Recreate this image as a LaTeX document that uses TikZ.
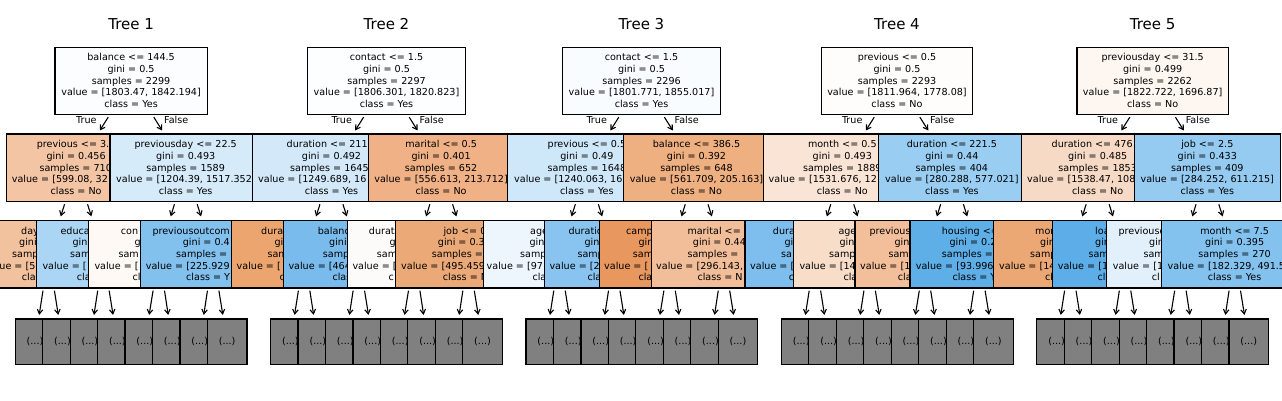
\documentclass[tikz,border=0pt]{standalone}
\usepackage{fontspec}
\setmainfont{DejaVu Sans}
\usetikzlibrary{arrows.meta}
\newcommand\fs{\fontsize{9.6pt}{11.65pt}\selectfont}
\newcounter{tlc}
\newcommand\Lc[3]{\stepcounter{tlc}\node[tl,anchor=base] (tl\arabic{tlc}) at (#1,#2) {#3};}
\newcommand\Lw[3]{\stepcounter{tlc}\node[tl,anchor=base west] (tl\arabic{tlc}) at (#1,#2) {#3};}
\newcommand\BX[5]{\node[bx,minimum width=#4pt,fill={rgb,255:#5}] (#1) at (#2,#3) {};}
% five centred lines of a root node
\newcommand\RootTxt[6]{\Lc{#1}{60.9}{#2}\Lc{#1}{72.55}{#3}\Lc{#1}{84.2}{#4}\Lc{#1}{95.85}{#5}\Lc{#1}{107.5}{#6}}
\newcommand\OneTxt[6]{\Lc{#1}{147.8}{#2}\Lc{#1}{159.45}{#3}\Lc{#1}{171.1}{#4}\Lc{#1}{182.75}{#5}\Lc{#1}{194.4}{#6}}
\tikzset{
  bx/.style={draw=black,line width=1.2pt,inner sep=0pt,minimum height=67.7pt},
  lf/.style={draw=black,line width=1.2pt,fill={rgb,255:red,128;green,128;blue,128},
    minimum width=39.6pt,minimum height=45.3pt,inner sep=0pt,font=\fs},
  tl/.style={inner sep=0pt,font=\fs},
  ttl/.style={inner sep=0pt,font=\fontsize{15pt}{18pt}\selectfont},
  arr/.style={line width=1.1pt,-{Straight Barb[length=4.5pt,width=5.5pt]},shorten <=2pt,shorten >=3.5pt},
}
\begin{document}
\begin{tikzpicture}[x=1pt,y=-1pt]
\useasboundingbox (0,0) rectangle (1282,400);
\clip (0,0) rectangle (1282,400);
\fill[white] (0,0) rectangle (1282,400);

% titles
\node[ttl,anchor=base] (h1) at (131.1,29) {Tree 1};
\node[ttl,anchor=base] (h2) at (386.5,29) {Tree 2};
\node[ttl,anchor=base] (h3) at (641.5,29) {Tree 3};
\node[ttl,anchor=base] (h4) at (897,29) {Tree 4};
\node[ttl,anchor=base] (h5) at (1152.7,29) {Tree 5};

% ---------- roots ----------
\BX{t1}{131.1}{81}{152.3}{red,251;green,253;blue,255}
\RootTxt{131.1}{balance <= 144.5}{gini = 0.5}{samples = 2299}{value = [1803.47, 1842.194]}{class = Yes}
\BX{t2}{386.5}{81}{158.4}{red,253;green,254;blue,255}
\RootTxt{386.5}{contact <= 1.5}{gini = 0.5}{samples = 2297}{value = [1806.301, 1820.823]}{class = Yes}
\BX{t3}{641.5}{81}{158.4}{red,249;green,252;blue,254}
\RootTxt{641.5}{contact <= 1.5}{gini = 0.5}{samples = 2296}{value = [1801.771, 1855.017]}{class = Yes}
\BX{t4}{897}{81}{150.6}{red,254;green,253;blue,251}
\RootTxt{897}{previous <= 0.5}{gini = 0.5}{samples = 2293}{value = [1811.964, 1778.08]}{class = No}
\BX{t5}{1152.7}{81}{151.4}{red,253;green,246;blue,241}
\RootTxt{1152.7}{previousday <= 31.5}{gini = 0.499}{samples = 2262}{value = [1822.722, 1696.87]}{class = No}

% ---------- depth 1 ----------
\BX{t1L}{76.1}{167.9}{138.8}{red,243;green,197;blue,165}
\Lw{36.7}{147.8}{previous <= 3.}
\Lc{76.1}{159.45}{gini = 0.456}
\Lw{39.3}{171.1}{samples = 710}
\Lw{11.7}{182.75}{value = [599.08, 32}
\Lc{76.1}{194.4}{class = No}
\BX{t1R}{185.7}{167.9}{151.4}{red,214;green,235;blue,250}
\Lc{185.7}{147.8}{previousday <= 22.5}
\Lc{185.7}{159.45}{gini = 0.493}
\Lc{185.7}{171.1}{samples = 1589}
\Lw{116}{182.75}{value = [1204.39, 1517.352}
\Lc{185.7}{194.4}{class = Yes}

\BX{t2L}{331.5}{167.9}{157.6}{red,211;green,233;blue,249}
\Lw{286.5}{147.8}{duration <= 211}
\Lc{331.5}{159.45}{gini = 0.492}
\Lw{290}{171.1}{samples = 1645}
\Lw{258}{182.75}{value = [1249.689, 16}
\Lc{331.5}{194.4}{class = Yes}
\BX{t2R}{441.1}{167.9}{145.6}{red,239;green,177;blue,133}
\OneTxt{441.1}{marital <= 0.5}{gini = 0.401}{samples = 652}{value = [556.613, 213.712]}{class = No}

\BX{t3L}{586.9}{167.9}{159.2}{red,206;green,231;blue,249}
\Lc{586.9}{147.8}{previous <= 0.5}
\Lc{586.9}{159.45}{gini = 0.49}
\Lc{586.9}{171.1}{samples = 1648}
\Lw{514}{182.75}{value = [1240.063, 16}
\Lc{586.9}{194.4}{class = Yes}
\BX{t3R}{696.5}{167.9}{146.4}{red,238;green,175;blue,129}
\OneTxt{696.5}{balance <= 386.5}{gini = 0.392}{samples = 648}{value = [561.709, 205.163]}{class = No}

\BX{t4L}{842.3}{167.9}{158}{red,250;green,228;blue,213}
\Lc{842.3}{147.8}{month <= 0.5}
\Lc{842.3}{159.45}{gini = 0.493}
\Lc{842.3}{171.1}{samples = 1889}
\Lw{768.5}{182.75}{value = [1531.676, 12}
\Lc{842.3}{194.4}{class = No}
\BX{t4R}{951.9}{167.9}{147.2}{red,153;green,205;blue,242}
\OneTxt{951.9}{duration <= 221.5}{gini = 0.44}{samples = 404}{value = [280.288, 577.021]}{class = Yes}

\BX{t5L}{1097.7}{167.9}{152}{red,247;green,218;blue,197}
\Lw{1051.5}{147.8}{duration <= 476}
\Lc{1097.7}{159.45}{gini = 0.485}
\Lc{1097.7}{171.1}{samples = 1853}
\Lw{1027}{182.75}{value = [1538.47, 108}
\Lc{1097.7}{194.4}{class = No}
\BX{t5R}{1207.3}{167.9}{146}{red,149;green,203;blue,241}
\OneTxt{1207.3}{job <= 2.5}{gini = 0.433}{samples = 409}{value = [284.252, 611.215]}{class = Yes}

% ---------- depth 2 ----------
% tree 1
\BX{t1LL}{48.7}{254.2}{140}{red,242;green,193;blue,158}
\Lw{21}{234.1}{day}\Lw{19}{245.75}{gini}\Lw{12}{257.4}{samp}\Lw{-15}{269.05}{value = [57}\Lw{21.7}{280.7}{cla}
\BX{t1LR}{103.3}{254.2}{133.2}{red,171;green,213;blue,244}
\Lw{60.3}{234.1}{educa}\Lw{72.3}{245.75}{gin}\Lw{70}{257.4}{sam}\Lw{42.3}{269.05}{value = [}\Lw{76.7}{280.7}{cla}
\BX{t1RL}{159}{254.2}{141.4}{red,254;green,249;blue,245}
\Lw{120.7}{234.1}{con}\Lw{134.3}{245.75}{g}\Lw{118.3}{257.4}{sam}\Lw{94.3}{269.05}{value = [}\Lw{132.3}{280.7}{cl}
\BX{t1RR}{213}{254.2}{144.6}{red,130;green,192;blue,238}
\Lw{152.3}{234.1}{previousoutcom}\Lw{182.7}{245.75}{gini = 0.4}\Lw{176}{257.4}{samples = }\Lw{145.7}{269.05}{value = [225.929}\Lw{186}{280.7}{class = Y}
% tree 2
\BX{t2LL}{304.1}{254.2}{145.6}{red,236;green,165;blue,111}
\Lw{261}{234.1}{dura}\Lw{274.3}{245.75}{gi}\Lw{267.3}{257.4}{sam}\Lw{236.5}{269.05}{value = [}\Lw{279.3}{280.7}{c}
\BX{t2LR}{358.7}{254.2}{150.8}{red,121;green,187;blue,236}
\Lw{317.7}{234.1}{balanc}\Lw{329}{245.75}{gini}\Lw{322.7}{257.4}{samp}\Lw{288.3}{269.05}{value = [464}\Lw{332.3}{280.7}{clas}
\BX{t2RL}{414.4}{254.2}{134.2}{red,253;green,251;blue,250}
\Lw{368.7}{234.1}{durat}\Lw{389.3}{245.75}{g}\Lw{376.7}{257.4}{sam}\Lw{352.3}{269.05}{value = [}\Lw{388.3}{280.7}{c}
\BX{t2RR}{468.4}{254.2}{145.4}{red,236;green,169;blue,120}
\Lw{443.3}{234.1}{job <= 0}\Lw{437.7}{245.75}{gini = 0.3}\Lw{431.7}{257.4}{samples = }\Lw{401}{269.05}{value = [495.459}\Lw{442.7}{280.7}{class = N}
% tree 3
\BX{t3LL}{559.5}{254.2}{152.4}{red,238;green,246;blue,253}
\Lw{530}{234.1}{age}\Lw{529.3}{245.75}{gin}\Lw{520}{257.4}{samp}\Lw{486.5}{269.05}{value = [97}\Lw{532.3}{280.7}{cla}
\BX{t3LR}{614.1}{254.2}{139.6}{red,137;green,196;blue,240}
\Lw{568.3}{234.1}{duratio}\Lw{584.3}{245.75}{gin}\Lw{577.3}{257.4}{samp}\Lw{549.3}{269.05}{value = [2}\Lw{587.3}{280.7}{cla}
\BX{t3RL}{669.8}{254.2}{141}{red,232;green,152;blue,94}
\Lw{626}{234.1}{camp}\Lw{638.3}{245.75}{gin}\Lw{632.7}{257.4}{sam}\Lw{604}{269.05}{value = [}\Lw{638.3}{280.7}{cla}
\BX{t3RR}{723.8}{254.2}{144.2}{red,242;green,190;blue,153}
\Lw{687.3}{234.1}{marital <=}\Lw{692.7}{245.75}{gini = 0.44}\Lw{687.3}{257.4}{samples = }\Lw{656}{269.05}{value = [296.143,}\Lw{697.3}{280.7}{class = N}
% tree 4
\BX{t4LL}{814.9}{254.2}{139.8}{red,125;green,190;blue,238}
\Lw{772.7}{234.1}{dura}\Lw{784.3}{245.75}{gi}\Lw{781}{257.4}{sa}\Lw{750}{269.05}{value = [}\Lw{788.7}{280.7}{c}
\BX{t4LR}{869.5}{254.2}{152.4}{red,248;green,221;blue,201}
\Lw{838.3}{234.1}{age}\Lw{839.3}{245.75}{gin}\Lw{829}{257.4}{samp}\Lw{799.3}{269.05}{value = [14}\Lw{843.3}{280.7}{cla}
\BX{t4RL}{925.2}{254.2}{140.4}{red,242;green,191;blue,154}
\Lw{869.3}{234.1}{previous}\Lw{894.3}{245.75}{gin}\Lw{888.3}{257.4}{samp}\Lw{860}{269.05}{value = [1}\Lw{897.7}{280.7}{cla}
\BX{t4RR}{979.2}{254.2}{138.4}{red,94;green,174;blue,232}
\Lw{941.7}{234.1}{housing <=}\Lw{949.3}{245.75}{gini = 0.2}\Lw{941.7}{257.4}{samples = }\Lw{915.7}{269.05}{value = [93.996}\Lw{952.3}{280.7}{class = Y}
% tree 5
\BX{t5LL}{1070.3}{254.2}{154}{red,236;green,168;blue,116}
\Lw{1035}{234.1}{mon}\Lw{1040}{245.75}{gin}\Lw{1030}{257.4}{samp}\Lw{999}{269.05}{value = [14}\Lw{1045}{280.7}{cla}
\BX{t5LR}{1124.9}{254.2}{145.2}{red,92;green,173;blue,232}
\Lw{1095}{234.1}{loa}\Lw{1095}{245.75}{gin}\Lw{1088.3}{257.4}{sam}\Lw{1057.7}{269.05}{value = [1}\Lw{1097.3}{280.7}{cl}
\BX{t5RL}{1180.6}{254.2}{147.8}{red,226;green,240;blue,251}
\Lw{1118.3}{234.1}{previouso}\Lw{1149}{245.75}{gin}\Lw{1143.3}{257.4}{sam}\Lw{1112.7}{269.05}{value = [1}\Lw{1151.7}{280.7}{cl}
\BX{t5RR}{1234.6}{254.2}{145.8}{red,131;green,193;blue,239}
\Lc{1234.6}{234.1}{month <= 7.5}\Lc{1234.6}{245.75}{gini = 0.395}\Lc{1234.6}{257.4}{samples = 270}\Lw{1167.5}{269.05}{value = [182.329, 491.5}\Lc{1234.6}{280.7}{class = Yes}

% ---------- truncated leaves ----------
\foreach \tr/\off in {1/0,2/255.4,3/510.8,4/766.2,5/1021.6}{
  \foreach \j in {0,...,7}{
    \node[lf] (t\tr f\j) at ({35+27.45*\j+\off},341.6) {(...)};
  }
}

% ---------- connectors ----------
\foreach \tr/\cx in {1/131.1,2/386.5,3/641.5,4/897,5/1152.7}{
  \draw[arr] (t\tr) -- (t\tr L);
  \draw[arr] (t\tr) -- (t\tr R);
  \node[tl,anchor=base east] (lt\tr) at ({\cx-34.4},123.7) {True};
  \node[tl,anchor=base west] (lf\tr) at ({\cx+32.9},123.7) {False};
  \draw[arr] (t\tr L) -- (t\tr LL);
  \draw[arr] (t\tr L) -- (t\tr LR);
  \draw[arr] (t\tr R) -- (t\tr RL);
  \draw[arr] (t\tr R) -- (t\tr RR);
  \draw[arr] (t\tr LL) -- (t\tr f0);
  \draw[arr] (t\tr LL) -- (t\tr f1);
  \draw[arr] (t\tr LR) -- (t\tr f2);
  \draw[arr] (t\tr LR) -- (t\tr f3);
  \draw[arr] (t\tr RL) -- (t\tr f4);
  \draw[arr] (t\tr RL) -- (t\tr f5);
  \draw[arr] (t\tr RR) -- (t\tr f6);
  \draw[arr] (t\tr RR) -- (t\tr f7);
}
\end{tikzpicture}
\end{document}
